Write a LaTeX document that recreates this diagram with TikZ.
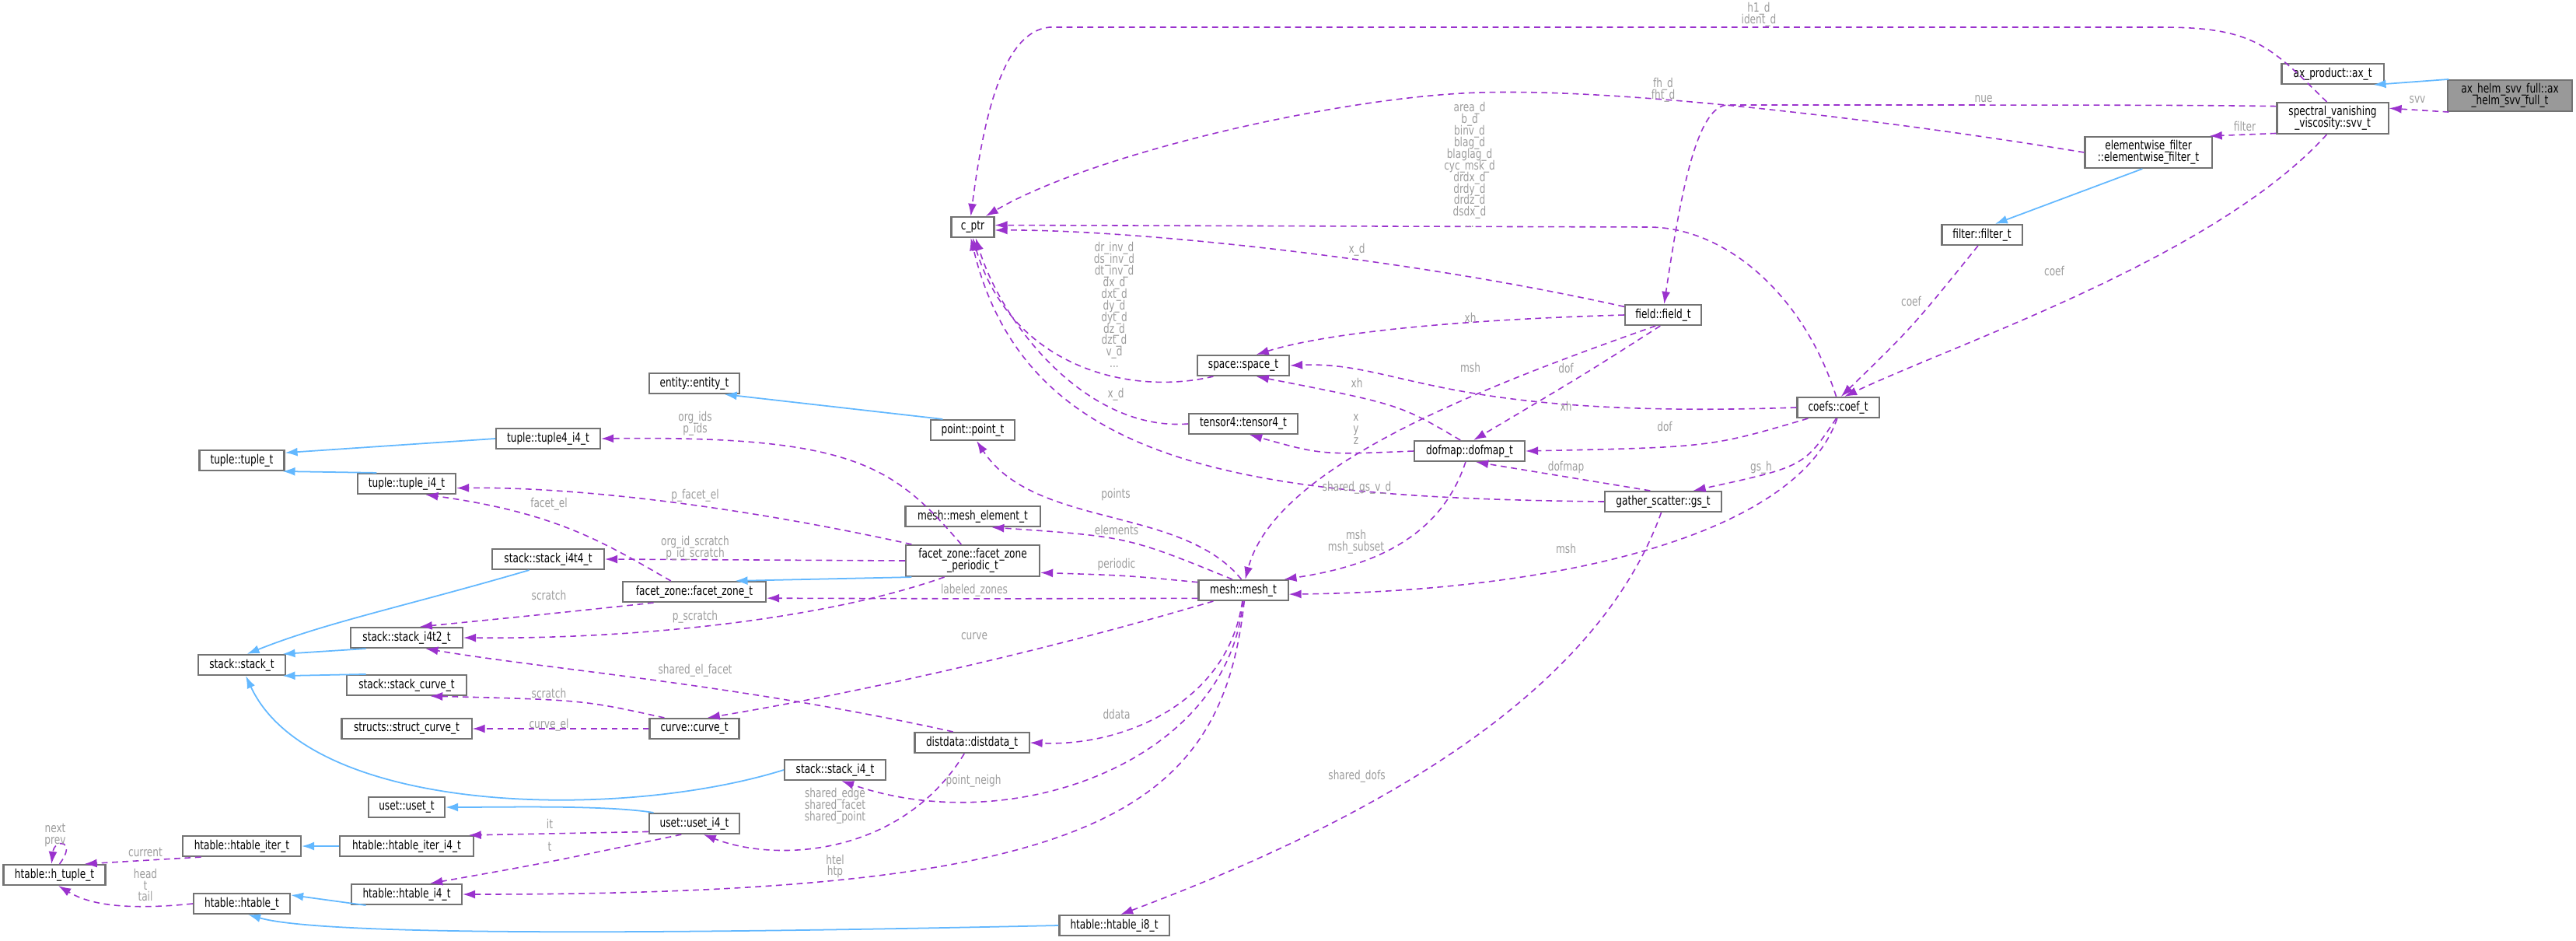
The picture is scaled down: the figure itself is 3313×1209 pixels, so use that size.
\documentclass[tikz,border=0pt]{standalone}
\usepackage{fontspec}
\newfontfamily\nf[FakeStretch=0.75]{DejaVu Sans}
\newcommand\boxfnt{\nf\fontsize{4.6}{4.4}\selectfont\lineskiplimit=-10pt\relax}
\newcommand\lbfnt{\nf\fontsize{4.6}{4.25}\selectfont\lineskiplimit=-10pt\relax}
\usetikzlibrary{arrows.meta}
\definecolor{mp}{HTML}{9A32CD}
\definecolor{bl}{HTML}{63B8FF}
\definecolor{lg}{HTML}{9C9C9C}
\begin{document}
\begin{tikzpicture}[x=0.01cm,y=-0.01cm,
  box/.style={draw=black!55,line width=0.6pt,fill=white,inner sep=0.5pt,minimum height=0.26cm,font=\boxfnt,align=center},
  box2/.style={box,minimum height=0.40cm},
  m/.style={draw=mp,dash pattern=on 2.2pt off 1.6pt,line width=0.45pt,-{Latex[length=0.16cm,width=0.11cm]}},
  inh/.style={draw=bl,line width=0.5pt,-{Latex[length=0.16cm,width=0.11cm]}},
  lb/.style={text=lg,font=\lbfnt,align=center,inner sep=0pt}]
\useasboundingbox (0,0) rectangle (3313,1209);
% nodes
\node[box2,fill=black!40,minimum width=1.60cm] (axhelm) at (3228,123) {ax\_helm\_svv\_full::ax\\\_helm\_svv\_full\_t};
\node[box,minimum width=1.31cm] (axt) at (3000,95) {ax\_product::ax\_t};
\node[box2,minimum width=1.43cm] (svv) at (3000,152) {spectral\_vanishing\\\_viscosity::svv\_t};
\node[box2,minimum width=1.63cm] (ewf) at (2763,196) {elementwise\_filter\\::elementwise\_filter\_t};
\node[box,minimum width=1.03cm] (filter) at (2549,302) {filter::filter\_t};
\node[box,minimum width=0.55cm] (cptr) at (1251,292) {c\_ptr};
\node[box,minimum width=0.98cm] (field) at (2139,405) {field::field\_t};
\node[box,minimum width=1.05cm] (coef) at (2364,524) {coefs::coef\_t};
\node[box,minimum width=1.50cm] (gs) at (2139,645) {gather\_scatter::gs\_t};
\node[box,minimum width=1.18cm] (space) at (1599,470) {space::space\_t};
\node[box,minimum width=1.40cm] (tensor4) at (1599,545) {tensor4::tensor4\_t};
\node[box,minimum width=1.42cm] (dofmap) at (1890,580) {dofmap::dofmap\_t};
\node[box,minimum width=1.08cm] (point) at (1251,553) {point::point\_t};
\node[box,minimum width=1.73cm] (meshel) at (1251,664) {mesh::mesh\_element\_t};
\node[box2,minimum width=1.72cm] (periodic) at (1251,721) {facet\_zone::facet\_zone\\\_periodic\_t};
\node[box,minimum width=1.15cm] (mesh) at (1599,759) {mesh::mesh\_t};
\node[box,minimum width=1.16cm] (entity) at (893,493) {entity::entity\_t};
\node[box,minimum width=1.34cm] (tuple4) at (705,564) {tuple::tuple4\_i4\_t};
\node[box,minimum width=1.09cm] (tuple) at (311,592) {tuple::tuple\_t};
\node[box,minimum width=1.26cm] (tuplei4) at (523,622) {tuple::tuple\_i4\_t};
\node[box,minimum width=1.44cm] (stacki4t4) at (705,719) {stack::stack\_i4t4\_t};
\node[box,minimum width=1.84cm] (facetzone) at (893,761) {facet\_zone::facet\_zone\_t};
\node[box,minimum width=1.44cm] (stacki4t2) at (523,820) {stack::stack\_i4t2\_t};
\node[box,minimum width=1.12cm] (stack) at (311,855) {stack::stack\_t};
\node[box,minimum width=1.54cm] (stackcurve) at (523,881) {stack::stack\_curve\_t};
\node[box,minimum width=1.67cm] (structcurve) at (523,937) {structs::struct\_curve\_t};
\node[box,minimum width=1.15cm] (curve) at (893,937) {curve::curve\_t};
\node[box,minimum width=1.47cm] (distdata) at (1250,955) {distdata::distdata\_t};
\node[box,minimum width=1.30cm] (stacki4) at (1074,990) {stack::stack\_i4\_t};
\node[box,minimum width=0.98cm] (usett) at (523,1038) {uset::uset\_t};
\node[box,minimum width=1.16cm] (useti4) at (893,1059) {uset::uset\_i4\_t};
\node[box,minimum width=1.72cm] (htiteri4) at (523,1088) {htable::htable\_iter\_i4\_t};
\node[box,minimum width=1.52cm] (htiter) at (311,1088) {htable::htable\_iter\_t};
\node[box,minimum width=1.31cm] (htuple) at (70,1125) {htable::h\_tuple\_t};
\node[box,minimum width=1.42cm] (htablei4) at (523,1150) {htable::htable\_i4\_t};
\node[box,minimum width=1.24cm] (htable) at (311,1162) {htable::htable\_t};
\node[box,minimum width=1.41cm] (htablei8) at (1433,1190) {htable::htable\_i8\_t};
% inheritance
\draw[inh] (axhelm.165) -- (axt.-15);
\draw[inh] (ewf.-110) -- (filter.40);
\draw[inh] (tuple4.west) -- (tuple.10);
\draw[inh] (tuplei4.160) -- (tuple.-15);
\draw[inh] (point.160) -- (entity.-20);
\draw[inh] (periodic.-165) -- (facetzone.15);
\draw[inh] (stacki4t4.-150) .. controls (520,780) and (420,800) .. (stack.65);
\draw[inh] (stacki4t2.-165) -- (stack.15);
\draw[inh] (stackcurve.165) -- (stack.-15);
\draw[inh] (stacki4.west) .. controls (800,1055) and (400,1050) .. (stack.-70);
\draw[inh] (useti4.165) .. controls (780,1035) and (650,1038) .. (usett.east);
\draw[inh] (htiteri4.west) -- (htiter.east);
\draw[inh] (htablei4.-165) -- (htable.10);
\draw[inh] (htablei8.west) .. controls (900,1200) and (420,1205) .. (htable.-60);
% usage
\draw[m] (axhelm.195) -- (svv.10);
\draw[m] (svv.195) -- (ewf.15);
\draw[m] (svv.110) .. controls (2920,60) and (2900,35) .. (2780,35) -- (1350,35) .. controls (1290,40) and (1265,150) .. (cptr.100);
\draw[m] (svv.168) .. controls (2800,135) and (2700,135) .. (2220,135) .. controls (2180,140) and (2160,260) .. (field.85);
\draw[m] (svv.-110) .. controls (2850,330) and (2520,440) .. (coef.60);
\draw[m] (ewf.west) .. controls (2400,150) and (2050,110) .. (1880,120) .. controls (1700,130) and (1400,200) .. (cptr.40);
\draw[m] (coef.100) .. controls (2320,380) and (2220,292) .. (2120,292) -- (cptr.5);
\draw[m] (field.168) .. controls (1800,330) and (1450,295) .. (cptr.-8);
\draw[m] (field.west) .. controls (1850,412) and (1700,430) .. (space.40);
\draw[m] (field.-125) .. controls (1900,500) and (1640,600) .. (mesh.80);
\draw[m] (field.-105) .. controls (2040,480) .. (dofmap.70);
\draw[m] (space.-160) .. controls (1450,510) and (1300,470) .. (cptr.-90);
\draw[m] (tensor4.west) .. controls (1400,555) and (1290,420) .. (cptr.-75);
\draw[m] (gs.west) .. controls (1600,640) and (1320,600) .. (cptr.-100);
\draw[m] (dofmap.130) .. controls (1800,520) .. (space.-40);
\draw[m] (dofmap.west) .. controls (1700,585) .. (tensor4.-60);
\draw[m] (dofmap.-110) .. controls (1850,700) and (1750,730) .. (mesh.15);
\draw[m] (coef.west) .. controls (1850,540) and (1800,464) .. (space.east);
\draw[m] (coef.-160) .. controls (2200,575) .. (dofmap.east);
\draw[m] (coef.-100) .. controls (2320,600) .. (gs.20);
\draw[m] (coef.-95) .. controls (2310,690) and (2000,760) .. (mesh.-5);
\draw[m] (gs.140) -- (dofmap.-60);
\draw[m] (gs.-100) .. controls (2050,900) and (1750,1060) .. (htablei8.60);
\draw[m] (filter.-110) .. controls (2460,420) .. (coef.75);
\draw[m] (mesh.100) .. controls (1520,650) and (1330,680) .. (point.-70);
\draw[m] (mesh.135) .. controls (1450,690) .. (meshel.-30);
\draw[m] (mesh.170) .. controls (1450,740) .. (periodic.-10);
\draw[m] (mesh.190) .. controls (1250,770) .. (facetzone.-5);
\draw[m] (mesh.-160) .. controls (1300,850) and (1050,900) .. (curve.40);
\draw[m] (mesh.-95) .. controls (1580,900) and (1450,960) .. (distdata.east);
\draw[m] (mesh.-92) .. controls (1580,980) and (1300,1080) .. (stacki4.-60);
\draw[m] (mesh.-85) .. controls (1570,1050) and (1400,1150) .. (htablei4.east);
\draw[m] (periodic.125) .. controls (1150,600) and (1100,560) .. (tuple4.east);
\draw[m] (periodic.165) .. controls (900,640) and (700,626) .. (tuplei4.-5);
\draw[m] (periodic.180) -- (stacki4t4.east);
\draw[m] (periodic.-150) .. controls (1050,800) and (800,822) .. (stacki4t2.east);
\draw[m] (facetzone.155) .. controls (780,700) and (720,660) .. (tuplei4.-30);
\draw[m] (facetzone.-165) .. controls (700,790) .. (stacki4t2.40);
\draw[m] (curve.160) .. controls (750,900) .. (stackcurve.-25);
\draw[m] (curve.west) -- (structcurve.east);
\draw[m] (distdata.150) .. controls (950,880) and (700,860) .. (stacki4t2.-30);
\draw[m] (distdata.-125) .. controls (1160,1100) and (1000,1110) .. (useti4.-50);
\draw[m] (useti4.-170) -- (htiteri4.10);
\draw[m] (useti4.-140) .. controls (700,1110) .. (htablei4.25);
\draw[m] (htiter.-165) -- (htuple.20);
\draw[m] (htable.west) .. controls (150,1172) and (110,1160) .. (htuple.-70);
\draw[m] (htuple.65) .. controls (100,1080) and (70,1078) .. (htuple.105);
% labels
\node[lb] at (3109,128) {svv};
\node[lb] at (2887,162) {filter};
\node[lb] at (2262,19) {h1\_d\\ident\_d};
\node[lb] at (2551,127) {nue};
\node[lb] at (2642,348) {coef};
\node[lb] at (2458,387) {coef};
\node[lb] at (2139,116) {fh\_d\\fht\_d};
\node[lb] at (1890,212) {area\_d\\b\_d\\binv\_d\\blag\_d\\blaglag\_d\\cyc\_msk\_d\\drdx\_d\\drdy\_d\\drdz\_d\\dsdx\_d\\...};
\node[lb] at (1745,321) {x\_d};
\node[lb] at (1891,408) {xh};
\node[lb] at (1433,392) {dr\_inv\_d\\ds\_inv\_d\\dt\_inv\_d\\dx\_d\\dxt\_d\\dy\_d\\dyt\_d\\dz\_d\\dzt\_d\\v\_d\\...};
\node[lb] at (1891,472) {msh};
\node[lb] at (2014,473) {dof};
\node[lb] at (1745,492) {xh};
\node[lb] at (1435,507) {x\_d};
\node[lb] at (1744,552) {x\\y\\z};
\node[lb] at (2014,522) {xh};
\node[lb] at (2141,548) {dof};
\node[lb] at (2014,601) {dofmap};
\node[lb] at (2265,601) {gs\_h};
\node[lb] at (2014,705) {msh};
\node[lb] at (1745,627) {shared\_gs\_v\_d};
\node[lb] at (1744,697) {msh\\msh\_subset};
\node[lb] at (1745,998) {shared\_dofs};
\node[lb] at (1435,636) {points};
\node[lb] at (1436,681) {elements};
\node[lb] at (1436,726) {periodic};
\node[lb] at (1253,759) {labeled\_zones};
\node[lb] at (1253,818) {curve};
\node[lb] at (1436,918) {ddata};
\node[lb] at (894,545) {org\_ids\\p\_ids};
\node[lb] at (706,648) {facet\_el};
\node[lb] at (894,637) {p\_facet\_el};
\node[lb] at (894,705) {org\_id\_scratch\\p\_id\_scratch};
\node[lb] at (706,765) {scratch};
\node[lb] at (894,793) {p\_scratch};
\node[lb] at (894,862) {shared\_el\_facet};
\node[lb] at (706,891) {scratch};
\node[lb] at (706,932) {curve\_el};
\node[lb] at (1252,1004) {point\_neigh};
\node[lb] at (1074,1036) {shared\_edge\\shared\_facet\\shared\_point};
\node[lb] at (707,1059) {it};
\node[lb] at (707,1089) {t};
\node[lb] at (1074,1114) {htel\\htp};
\node[lb] at (187,1096) {current};
\node[lb] at (187,1138) {head\\t\\tail};
\node[lb] at (71,1074) {next\\prev};
\end{tikzpicture}
\end{document}
